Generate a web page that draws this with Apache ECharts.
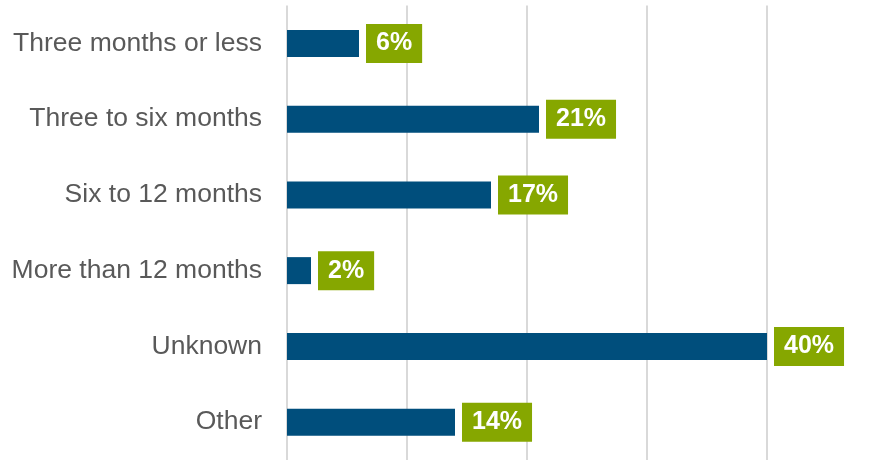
<!DOCTYPE html>
<html><head><meta charset="utf-8">
<script src="https://cdn.jsdelivr.net/npm/echarts@6/dist/echarts.min.js"></script>
<style>html,body{margin:0;padding:0;background:#fff}#c{width:885px;height:460px}</style>
</head><body><div id="c"></div>
<script>
const categories = ["Three months or less","Three to six months","Six to 12 months","More than 12 months","Unknown","Other"];
const values = [6,21,17,2,40,14];
const xTicks = [0,10,20,30,40];

const chart = echarts.init(document.getElementById('c'), null, {renderer:'canvas'});
chart.setOption({
  animation:false,
  grid:{left:287, top:5.5, width:480, height:457, containLabel:false},
  xAxis:{type:'value', min:xTicks[0], max:xTicks[xTicks.length-1], interval:10,
    axisLabel:{show:false}, axisLine:{show:false}, axisTick:{show:false},
    splitLine:{show:true, lineStyle:{color:'#d9d9d9', width:2}}},
  yAxis:{type:'category', data:categories, inverse:true,
    axisLine:{show:false}, axisTick:{show:false},
    axisLabel:{color:'#595959', fontSize:26.5, fontFamily:'Liberation Sans, Arial, sans-serif', margin:25}},
  series:[{type:'bar', data:values, barWidth:27,
    itemStyle:{color:'#004e7c'},
    label:{show:true, position:'right', distance:7, formatter:'{c}%',
      color:'#fff', fontWeight:'bold', fontSize:25, lineHeight:25,
      fontFamily:'Liberation Sans, Arial, sans-serif',
      backgroundColor:'#86a700', padding:[7,10,7,10]}}]
});
</script></body></html>
